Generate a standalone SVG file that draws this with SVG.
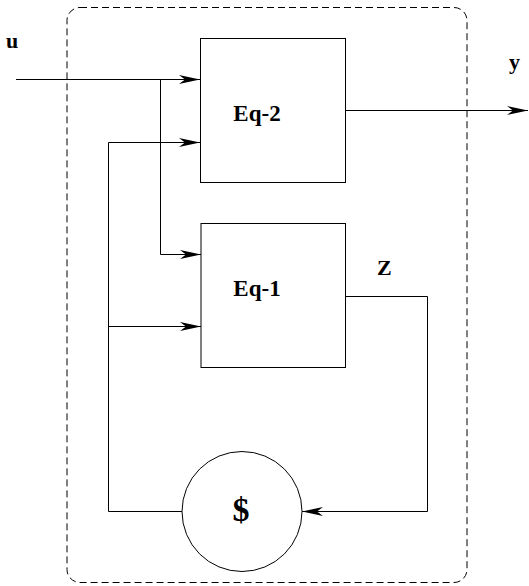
<svg xmlns="http://www.w3.org/2000/svg" width="529" height="586" viewBox="0 0 529 586">
<style>
.ln{fill:none;stroke:#000;stroke-width:1}
.bx{fill:#fff;stroke:#000;stroke-width:1}
.t{font-family:"Liberation Serif","Times New Roman",serif;font-weight:bold;fill:#000}
</style>
<defs>
<marker id="ah" markerUnits="userSpaceOnUse" markerWidth="22" markerHeight="12" viewBox="-21 -5 22 10" refX="0" refY="0" orient="auto">
<path d="M0,0 L-21,-4.5 L-15,0 L-21,4.5 Z" fill="#000"/>
</marker>
</defs>
<rect x="67" y="7.5" width="400" height="575" rx="13" ry="13" fill="none" stroke="#000" stroke-width="1" stroke-dasharray="7 4"/>
<g id="connectors">
<polyline class="ln" points="16,79.5 200,79.5" marker-end="url(#ah)"/>
<polyline class="ln" points="160.5,79.5 160.5,254.5 201,254.5" marker-end="url(#ah)"/>
<polyline class="ln" points="182,511.5 108.5,511.5 108.5,142.5 200,142.5" marker-end="url(#ah)"/>
<polyline class="ln" points="108.5,326.5 201,326.5" marker-end="url(#ah)"/>
<polyline class="ln" points="345,110.5 528,110.5" marker-end="url(#ah)"/>
<polyline class="ln" points="345,296.5 427.5,296.5 427.5,511.5 302,511.5" marker-end="url(#ah)"/>
</g>
<g id="eq2">
<rect class="bx" x="200.5" y="38.5" width="145" height="144"/>
<text class="t" x="257" y="121" font-size="23" text-anchor="middle">Eq-2</text>
</g>
<g id="eq1">
<rect class="bx" x="201" y="223.5" width="144.5" height="144"/>
<text class="t" x="257" y="296" font-size="23" text-anchor="middle">Eq-1</text>
</g>
<g id="sum">
<circle class="bx" cx="242" cy="511.5" r="60"/>
<text class="t" x="241" y="521" font-size="34" text-anchor="middle">$</text>
</g>
<g id="labels">
<text class="t" x="6" y="48" font-size="22">u</text>
<text class="t" x="509" y="69" font-size="22">y</text>
<text class="t" x="377" y="275" font-size="22">Z</text>
</g>
</svg>
